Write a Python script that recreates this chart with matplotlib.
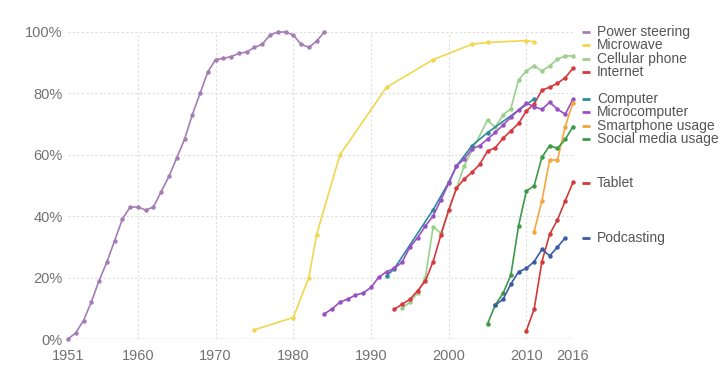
import numpy as np
import matplotlib
matplotlib.use("Agg")
import matplotlib.pyplot as plt

plt.rcParams['font.family'] = ['Liberation Sans', 'DejaVu Sans']

# --- data (share of US households, %) ---
steering_years = list(range(1951, 1985))
steering_vals = [0, 2, 6, 12, 19, 25, 32, 39, 43, 43, 42, 43, 48, 53, 59, 65, 73, 80,
                 87, 91, 91.4, 92, 93, 93.5, 95, 96, 99, 100, 100, 99, 96, 95, 97, 100]

microwave_years = [1975, 1980, 1982, 1983, 1986, 1992, 1998, 2003, 2005, 2010, 2011]
microwave_vals = [3, 7, 20, 34, 60, 82, 91, 96, 96.6, 97.2, 96.8]

cell_years = [1994, 1995, 1996, 1997, 1998, 1999, 2002, 2005, 2006, 2007, 2008,
              2009, 2010, 2011, 2012, 2013, 2014, 2015, 2016]
cell_vals = [10, 12, 15, 20, 36.6, 34.4, 56.4, 71.3, 69, 73, 75, 84.4, 87.3, 89,
             87.3, 89, 91.1, 92.2, 92.2]

internet_years = list(range(1993, 2017))
internet_vals = [9.7, 11.3, 12.9, 15.7, 18.9, 25.2, 33.9, 42, 49.1, 52.1, 54.3, 56.9,
                 61.2, 62.3, 65.4, 67.8, 70.2, 74.3, 76.5, 81.1, 82, 83.3, 85.1, 88.2]

computer_years = [1992, 1993, 1998, 2000, 2001, 2003, 2005, 2011]
computer_vals = [20.5, 22.9, 42.1, 51, 56.3, 63, 67.2, 78.2]

micro_years = list(range(1984, 2017))
micro_vals = [8.2, 9.8, 12, 13, 14.3, 15, 16.8, 20.1, 21.9, 23, 25, 29.9, 33, 36.8,
              40.1, 45.3, 50.7, 56.4, 58.6, 61.9, 63, 65.1, 67.3, 69.7, 72.2, 74.6,
              76.8, 75.7, 74.8, 77.1, 74.9, 73.2, 78.1]

smart_years = [2011, 2012, 2013, 2014, 2015, 2016]
smart_vals = [35, 45, 58.3, 58.3, 69.2, 77]

social_years = list(range(2005, 2017))
social_vals = [4.9, 11.1, 14.9, 20.8, 36.9, 48.2, 49.9, 59.2, 63, 62.1, 65, 69.2]

tablet_years = list(range(2010, 2017))
tablet_vals = [2.7, 9.7, 25.2, 34.1, 38.8, 45, 51]

podcast_years = list(range(2006, 2016))
podcast_vals = [11.1, 12.9, 17.9, 21.9, 23, 25.2, 29.2, 27.1, 29.9, 33]

names = ["Power steering", "Microwave", "Cellular phone", "Internet", "Computer",
         "Microcomputer", "Smartphone usage", "Social media usage", "Tablet", "Podcasting"]
series = [(steering_years, steering_vals), (microwave_years, microwave_vals),
          (cell_years, cell_vals), (internet_years, internet_vals),
          (computer_years, computer_vals), (micro_years, micro_vals),
          (smart_years, smart_vals), (social_years, social_vals),
          (tablet_years, tablet_vals), (podcast_years, podcast_vals)]
colors = ["#a57db6", "#f1d64e", "#9ccf8c", "#d8383f", "#2b8b9b",
          "#9a4fc2", "#f4a53c", "#3c9a49", "#d03a3a", "#3b5ba5"]
# label heights on the right side (layout, in % units)
label_y = [100, 95.8, 91.3, 87, 78.2, 73.9, 69.4, 65.1, 50.8, 32.9]

fig = plt.figure(figsize=(7.23, 3.76), dpi=100)
ax = fig.add_axes([0.094, 0.0984, 0.6985, 0.8165])

for (xs, ys), c in zip(series, colors):
    ax.plot(xs, ys, color=c, lw=1.2, marker="o", ms=2.2, clip_on=False, zorder=3)

ax.set_xlim(1951, 2016)
ax.set_ylim(0, 100)
ax.set_xticks([1951, 1960, 1970, 1980, 1990, 2000, 2010, 2016])
ax.set_yticks([0, 20, 40, 60, 80, 100])
ax.set_yticklabels([f"{v}%" for v in [0, 20, 40, 60, 80, 100]])
ax.tick_params(length=0, labelsize=10.5, labelcolor="#727272")
ax.tick_params(axis="x", pad=7)
ax.tick_params(axis="y", pad=4)

for v in [20, 40, 60, 80, 100]:
    ax.axhline(v, color="#dddddd", lw=0.8, ls=(0, (2, 2)), zorder=1)
for yr in [1960, 1970, 1980, 1990, 2000, 2010]:
    ax.axvline(yr, color="#dddddd", lw=0.8, ls=(0, (2, 2)), zorder=1)
ax.axhline(0, color="#d0d0d0", lw=1, zorder=2)

for s in ax.spines.values():
    s.set_visible(False)

for name, c, ly in zip(names, colors, label_y):
    ax.plot([2017.2, 2018.2], [ly, ly], color=c, lw=2, clip_on=False, solid_capstyle="butt")
    ax.text(2019.1, ly, name, color="#555555", fontsize=10, va="center", ha="left",
            clip_on=False)

fig.savefig("out.png", dpi=100)
